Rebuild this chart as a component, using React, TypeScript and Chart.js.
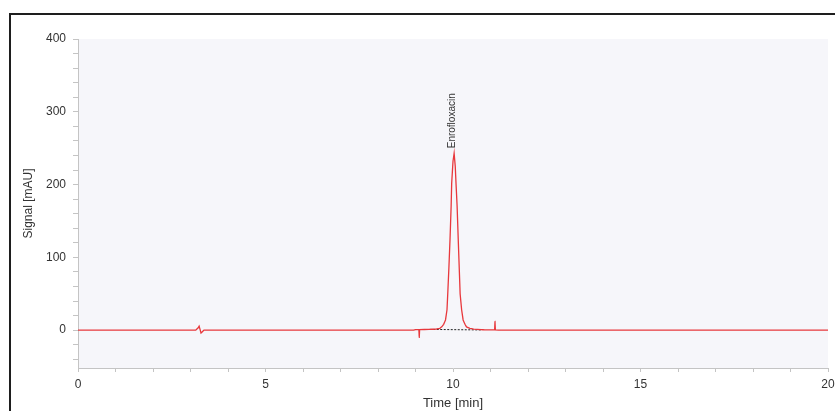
import React, { useEffect, useRef } from "react";
import { Chart, registerables } from "chart.js";

Chart.register(...registerables);

// Chromatogram trace (time in min, signal in mAU)
const timeMin = [
  0, 3.14, 3.2, 3.23, 3.26, 3.28, 3.31, 3.36, 8.95, 9.0, 9.09, 9.1, 9.11, 9.36,
  9.55, 9.65, 9.7, 9.75, 9.8, 9.84, 9.86, 9.89, 9.92, 9.95, 9.965, 10.0, 10.03,
  10.06, 10.08, 10.11, 10.14, 10.17, 10.19, 10.23, 10.27, 10.32, 10.36, 10.45,
  10.55, 10.75, 10.85, 11.11, 11.12, 11.13, 11.3, 20,
];
const signalMAU = [
  0, 0, 3, 5.5, 0, -4, -2.5, 0, 0, 0.8, 0.8, -10, 0.8, 1,
  1.5, 2.5, 4.5, 8, 14, 28, 50, 85, 124, 170, 202, 232, 243,
  225, 202, 170, 124, 80, 50, 28, 14, 8, 4.5, 2.5,
  1.5, 0.8, 0.3, 0.3, 12, 0.3, 0, 0,
];

// Integration baseline under the peak
const baselineTime = [9.38, 10.75];
const baselineSignal = [1, 0.3];

// Peak annotation
const peakNames = ["Enrofloxacin"];
const peakTimes = [10.03];
const peakHeights = [243];

// Axes
const xMajorTicks = [0, 5, 10, 15, 20];
const yMajorTicks = [0, 100, 200, 300, 400];
const xTitle = "Time [min]";
const yTitle = "Signal [mAU]";

const FONT = "'Liberation Sans', Arial, sans-serif";

export default function App() {
  const ref = useRef<HTMLCanvasElement | null>(null);

  useEffect(() => {
    if (!ref.current) return;

    const bgPlugin = {
      id: "plotBg",
      beforeDraw(chart: any) {
        const { ctx, chartArea } = chart;
        ctx.save();
        ctx.fillStyle = "#f6f6fa";
        ctx.fillRect(chartArea.left, chartArea.top, chartArea.right - chartArea.left, chartArea.bottom - chartArea.top);
        ctx.restore();
      },
    };

    const labelPlugin = {
      id: "peakLabels",
      afterDatasetsDraw(chart: any) {
        const { ctx, scales } = chart;
        ctx.save();
        ctx.fillStyle = "#333333";
        ctx.font = `10px ${FONT}`;
        ctx.textAlign = "left";
        ctx.textBaseline = "middle";
        peakNames.forEach((name, i) => {
          const x = scales.x.getPixelForValue(peakTimes[i]) - 2;
          const y = scales.y.getPixelForValue(peakHeights[i]) - 5;
          ctx.save();
          ctx.translate(x, y);
          ctx.rotate(-Math.PI / 2);
          ctx.fillText(name, 0, 0);
          ctx.restore();
        });
        ctx.restore();
      },
    };

    const chart = new Chart(ref.current, {
      type: "line",
      data: {
        datasets: [
          {
            data: timeMin.map((t, i) => ({ x: t, y: signalMAU[i] })),
            borderColor: "#e8383c",
            borderWidth: 1.3,
            pointRadius: 0,
            tension: 0.0001,
            fill: false,
          },
          {
            data: baselineTime.map((t, i) => ({ x: t, y: baselineSignal[i] })),
            borderColor: "#222222",
            borderWidth: 1,
            borderDash: [2, 1.5],
            pointRadius: 0,
            fill: false,
          },
        ],
      },
      options: {
        responsive: false,
        animation: false,
        devicePixelRatio: 1,
        layout: { padding: { left: 0, top: 39, right: 7, bottom: 0 } },
        plugins: { legend: { display: false }, tooltip: { enabled: false } },
        scales: {
          x: {
            type: "linear",
            min: 0,
            max: 20,
            afterFit(scale: any) {
              scale.height = 43;
              scale.paddingLeft = 0;
              scale.paddingRight = 0;
            },
            ticks: {
              stepSize: 1,
              autoSkip: false,
              maxRotation: 0,
              padding: 5,
              color: "#333333",
              font: { family: FONT, size: 12 },
              callback: (v: any) => (xMajorTicks.includes(Number(v)) ? String(v) : ""),
            },
            grid: { drawOnChartArea: false, drawTicks: true, tickLength: 4, color: "#c4c4c4" },
            border: { display: true, color: "#c4c4c4", width: 1 },
            title: {
              display: true,
              text: xTitle,
              color: "#333333",
              font: { family: FONT, size: 13 },
              padding: { top: 0, bottom: 0 },
            },
          },
          y: {
            type: "linear",
            min: -52,
            max: 400,
            afterFit(scale: any) {
              scale.width = 78;
              scale.paddingTop = 0;
              scale.paddingBottom = 0;
            },
            ticks: {
              stepSize: 20,
              includeBounds: false,
              autoSkip: false,
              padding: 7,
              color: "#333333",
              font: { family: FONT, size: 12 },
              callback: (v: any) => (yMajorTicks.includes(Number(v)) ? String(v) : ""),
            },
            grid: { drawOnChartArea: false, drawTicks: true, tickLength: 5, color: "#c4c4c4" },
            border: { display: true, color: "#c4c4c4", width: 1 },
            title: {
              display: true,
              text: yTitle,
              color: "#333333",
              font: { family: FONT, size: 12 },
              padding: { top: 21, bottom: 0 },
            },
          },
        },
      },
      plugins: [bgPlugin, labelPlugin],
    } as any);

    return () => chart.destroy();
  }, []);

  return (
    <div style={{ position: "fixed", left: 0, top: 0, width: 835, height: 411, overflow: "hidden", background: "#ffffff" }}>
      <canvas ref={ref} width={835} height={411} style={{ position: "absolute", left: 0, top: 0, width: 835, height: 411 }} />
      <div
        style={{
          position: "absolute",
          left: 9,
          top: 13,
          width: 826,
          height: 398,
          boxSizing: "border-box",
          borderTop: "2px solid #1e1e1e",
          borderLeft: "2px solid #1e1e1e",
          pointerEvents: "none",
        }}
      />
    </div>
  );
}
